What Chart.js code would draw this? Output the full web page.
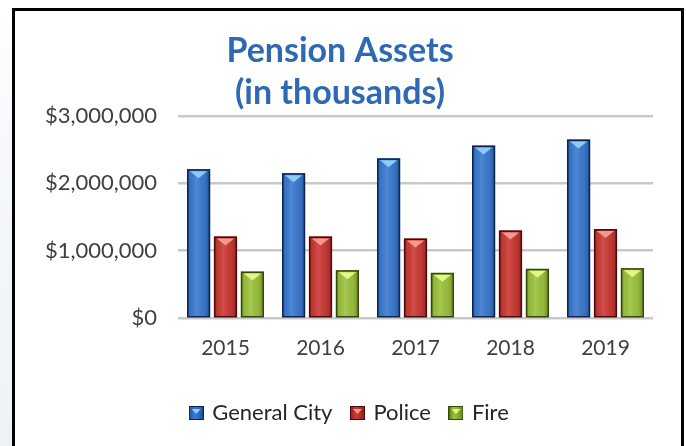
<!DOCTYPE html>
<html>
<head>
<meta charset="utf-8">
<script src="https://cdn.jsdelivr.net/npm/chart.js@4.4.1/dist/chart.umd.min.js"></script>
<style>
  html, body { margin: 0; padding: 0; background: #fff; }
  #wrap { width: 686px; height: 446px; }
</style>
</head>
<body>
<div id="wrap"><canvas id="myChart" width="686" height="446"></canvas></div>
<script>
const years = ['2015', '2016', '2017', '2018', '2019'];
const generalCity = [2210000, 2150000, 2370000, 2560000, 2650000];
const police = [1210000, 1210000, 1180000, 1300000, 1320000];
const fire = [690000, 710000, 670000, 730000, 740000];
const seriesNames = ['General City', 'Police', 'Fire'];
const yTicks = [0, 1000000, 2000000, 3000000];

// main / edge / highlight / border colours for each series
const palette = [
  { main: '#3b7bd0', edge: '#1d4f9a', light: '#8fcaf7', border: '#0c2450' },
  { main: '#cc3b36', edge: '#8e1d1a', light: '#f29a92', border: '#4a0b0a' },
  { main: '#9cc33e', edge: '#5f8419', light: '#e4f58a', border: '#34470c' },
];

const makeSwatch = (p) => {
  const c = document.createElement('canvas');
  c.width = 15;
  c.height = 14;
  const g = c.getContext('2d');
  const grad = g.createLinearGradient(0, 0, 15, 0);
  grad.addColorStop(0, p.edge);
  grad.addColorStop(0.4, p.main);
  grad.addColorStop(1, p.edge);
  g.fillStyle = grad;
  g.fillRect(0, 0, 15, 14);
  g.fillStyle = p.light;
  g.beginPath();
  g.moveTo(3, 3);
  g.lineTo(12, 3);
  g.lineTo(7.5, 8);
  g.closePath();
  g.fill();
  g.strokeStyle = p.border;
  g.lineWidth = 1;
  g.strokeRect(0.5, 0.5, 14, 13);
  return c;
};
const swatches = palette.map(makeSwatch);

const framePlugin = {
  id: 'frame',
  afterLayout: (chart) => {
    // legend sits a little right of the title in the original
    chart.legend.left += 10;
    chart.legend.right += 10;
  },
  beforeDraw: (chart) => {
    const ctx = chart.ctx;
    ctx.save();
    ctx.fillStyle = '#ffffff';
    ctx.fillRect(0, 0, chart.width, chart.height);
    const side = ctx.createLinearGradient(0, 8, 0, chart.height);
    side.addColorStop(0, '#ffffff');
    side.addColorStop(0.3, '#f6f8fb');
    side.addColorStop(1, '#eef2f6');
    ctx.fillStyle = side;
    ctx.fillRect(0, 8, 12, chart.height);
    ctx.strokeStyle = '#000000';
    ctx.lineWidth = 3;
    ctx.beginPath();
    ctx.moveTo(13.5, chart.height + 5);
    ctx.lineTo(13.5, 9.5);
    ctx.lineTo(682.5, 9.5);
    ctx.lineTo(682.5, chart.height + 5);
    ctx.stroke();
    ctx.restore();
  }
};

// shading + top triangle on each bar, placed from the bar elements
const bevelPlugin = {
  id: 'bevel',
  afterDatasetsDraw: (chart) => {
    const ctx = chart.ctx;
    chart.data.datasets.forEach((ds, di) => {
      const meta = chart.getDatasetMeta(di);
      const p = palette[di];
      meta.data.forEach((bar) => {
        const { x, y, base, width } = bar.getProps(['x', 'y', 'base', 'width'], true);
        const left = x - width / 2;
        const right = x + width / 2;
        ctx.save();
        const shade = ctx.createLinearGradient(left, 0, right, 0);
        shade.addColorStop(0, 'rgba(0,0,0,0.30)');
        shade.addColorStop(0.15, 'rgba(0,0,0,0.05)');
        shade.addColorStop(0.4, 'rgba(255,255,255,0.10)');
        shade.addColorStop(0.75, 'rgba(0,0,0,0.05)');
        shade.addColorStop(1, 'rgba(0,0,0,0.30)');
        ctx.fillStyle = shade;
        ctx.fillRect(left + 1, y + 1, width - 2, base - y - 1);
        ctx.fillStyle = p.light;
        ctx.beginPath();
        ctx.moveTo(left + 3, y + 2);
        ctx.lineTo(right - 3, y + 2);
        ctx.lineTo(x, y + 9);
        ctx.closePath();
        ctx.fill();
        ctx.strokeStyle = p.border;
        ctx.lineWidth = 1.5;
        ctx.strokeRect(left + 0.75, y + 0.75, width - 1.5, base - y - 0.75);
        ctx.restore();
      });
    });
  }
};

const makeDataset = (label, data, i) => ({
  label: label,
  data: data,
  backgroundColor: palette[i].main,
  borderWidth: 0,
  categoryPercentage: 0.85,
  barPercentage: 0.86,
});

const ctx = document.getElementById('myChart');
const chart = new Chart(ctx, {
  type: 'bar',
  data: {
    labels: years,
    datasets: [
      makeDataset(seriesNames[0], generalCity, 0),
      makeDataset(seriesNames[1], police, 1),
      makeDataset(seriesNames[2], fire, 2),
    ]
  },
  plugins: [framePlugin, bevelPlugin],
  options: {
    responsive: false,
    animation: false,
    layout: {
      padding: { top: 22, right: 6, bottom: 12, left: 0 }
    },
    scales: {
      x: {
        grid: { display: false },
        border: { display: false },
        ticks: {
          color: '#404040',
          padding: 10,
          font: { family: 'Lato', size: 21 }
        },
        afterFit: (s) => { s.height = 64; }
      },
      y: {
        min: 0,
        max: 3000000,
        afterBuildTicks: (s) => { s.ticks = yTicks.map((v) => ({ value: v })); },
        grid: { color: '#c9c9c9', lineWidth: 2.5, drawTicks: false },
        border: { display: false },
        ticks: {
          color: '#404040',
          padding: 21,
          font: { family: 'Lato', size: 22 },
          callback: (v) => '$' + Number(v).toLocaleString('en-US')
        },
        afterFit: (s) => { s.width = 178; }
      },
      // empty spacer on the right so the plot ends before the frame
      spacer: {
        type: 'linear',
        position: 'right',
        grid: { display: false },
        border: { display: false },
        ticks: { display: false },
        afterFit: (s) => { s.width = 27; }
      }
    },
    plugins: {
      title: {
        display: true,
        text: ['Pension Assets', '(in thousands)'],
        color: '#2e69b4',
        padding: { top: 8, bottom: 1.6 },
        font: { family: 'Lato', size: 34, weight: 'bold', lineHeight: 1.24 }
      },
      legend: {
        position: 'bottom',
        labels: {
          color: '#262626',
          font: { family: 'Lato', size: 22 },
          usePointStyle: true,
          boxHeight: 14,
          pointStyleWidth: 10,
          padding: 20,
          generateLabels: (c) => Chart.defaults.plugins.legend.labels.generateLabels(c)
            .map((item, i) => ({ ...item, pointStyle: swatches[i] }))
        }
      },
      tooltip: { enabled: false }
    }
  }
});
</script>
</body>
</html>
